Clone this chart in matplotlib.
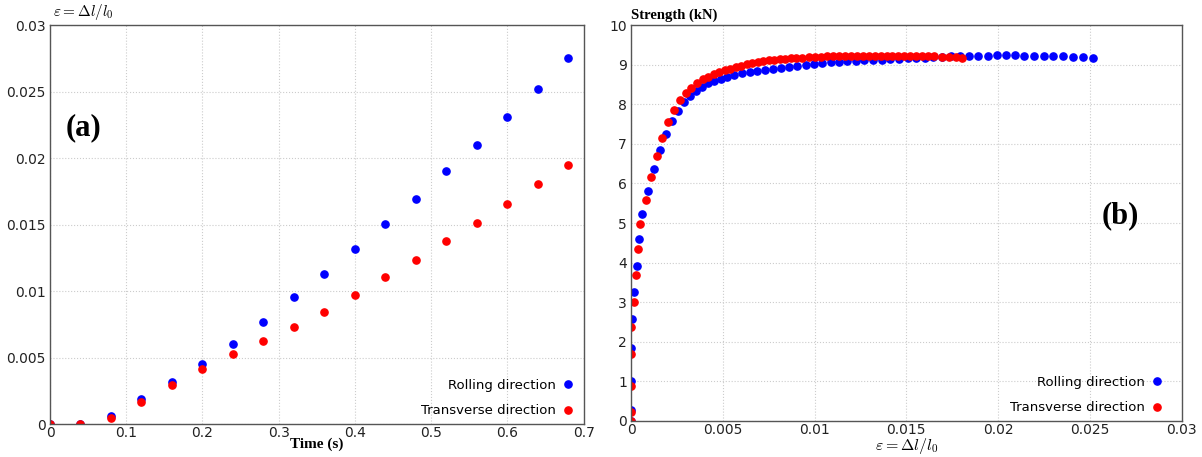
import numpy as np
import matplotlib
matplotlib.use("Agg")
import matplotlib.pyplot as plt
from matplotlib.ticker import FuncFormatter

plt.rcParams['mathtext.fontset'] = 'cm'
plt.rcParams['font.family'] = 'DejaVu Sans'

#=========== Données (a) : déformation en fonction du temps ===========#
time = [0.0, 0.04, 0.08, 0.12, 0.16, 0.20, 0.24, 0.28, 0.32,
        0.36, 0.40, 0.44, 0.48, 0.52, 0.56, 0.60, 0.64, 0.68]
eps_rolling = [0.0, 0.00003, 0.00058, 0.0019, 0.0032, 0.0045, 0.0060, 0.00768, 0.00952,
               0.0113, 0.0132, 0.01505, 0.0169, 0.0190, 0.0210, 0.0231, 0.0252, 0.0275]
eps_transverse = [0.0, 0.00002, 0.00045, 0.00167, 0.00293, 0.00414, 0.00525, 0.00626, 0.00732,
                  0.00843, 0.00967, 0.01104, 0.01235, 0.01379, 0.01515, 0.01655, 0.01806, 0.01948]

#=========== Données (b) : effort en fonction de la déformation ===========#
strain_rolling = [0.0, 0.0, 0.0, 0.0, 0.00005, 0.00018, 0.00033, 0.00045, 0.00062, 0.00094,
                  0.00125, 0.00158, 0.0019, 0.00223, 0.00258, 0.00289, 0.00321, 0.00354,
                  0.00387, 0.00419, 0.00452, 0.00488, 0.00524, 0.00562, 0.00603, 0.00647,
                  0.00688, 0.0073, 0.00774, 0.00815, 0.00859, 0.00906, 0.00953, 0.00996,
                  0.01042, 0.01087, 0.01132, 0.01178, 0.01225, 0.01272, 0.01319, 0.01366,
                  0.01413, 0.0146, 0.01507, 0.01554, 0.01602, 0.01648, 0.01696, 0.01743,
                  0.01793, 0.01844, 0.01893, 0.01945, 0.01993, 0.02042, 0.02091, 0.02143,
                  0.02195, 0.02249, 0.02301, 0.02354, 0.02408, 0.02462, 0.02517]
force_rolling = [0.0, 0.28, 1.00, 1.84, 2.58, 3.25, 3.92, 4.60, 5.23, 5.82,
                 6.36, 6.84, 7.25, 7.58, 7.84, 8.05, 8.21, 8.34,
                 8.44, 8.53, 8.59, 8.64, 8.69, 8.745, 8.78, 8.81,
                 8.84, 8.86, 8.89, 8.91, 8.95, 8.97, 9.00, 9.02,
                 9.04, 9.06, 9.07, 9.09, 9.10, 9.12, 9.125, 9.13,
                 9.14, 9.15, 9.16, 9.17, 9.18, 9.19, 9.20, 9.21,
                 9.21, 9.22, 9.23, 9.23, 9.24, 9.24, 9.24, 9.23,
                 9.23, 9.23, 9.22, 9.21, 9.20, 9.19, 9.16]

strain_transverse = [0.0, 0.0, 0.0, 0.0, 0.0, 0.00015, 0.00026, 0.00038, 0.00049, 0.00082,
                     0.0011, 0.0014, 0.0017, 0.00203, 0.00234, 0.00267, 0.00298, 0.00328,
                     0.00361, 0.0039, 0.0042, 0.0045, 0.0048, 0.0051, 0.0054, 0.0057,
                     0.006, 0.0063, 0.0066, 0.0069, 0.0072, 0.0075, 0.0078, 0.0081,
                     0.0084, 0.0087, 0.009, 0.0093, 0.00971, 0.01003, 0.01036, 0.01069,
                     0.01101, 0.01134, 0.01167, 0.01199, 0.01232, 0.01265, 0.01297, 0.0133,
                     0.01363, 0.01395, 0.01424, 0.01455, 0.01487, 0.01518, 0.01552, 0.01588,
                     0.0162, 0.01653, 0.01693, 0.01733, 0.01769, 0.01802]
force_transverse = [0.0, 0.23, 0.89, 1.68, 2.37, 3.01, 3.69, 4.34, 4.98, 5.59,
                    6.17, 6.70, 7.15, 7.54, 7.85, 8.11, 8.29, 8.42,
                    8.55, 8.63, 8.70, 8.76, 8.81, 8.86, 8.90, 8.94,
                    8.98, 9.01, 9.04, 9.07, 9.09, 9.11, 9.13, 9.14,
                    9.15, 9.16, 9.17, 9.18, 9.19, 9.20, 9.20, 9.21,
                    9.21, 9.21, 9.22, 9.22, 9.22, 9.22, 9.22, 9.22,
                    9.22, 9.22, 9.22, 9.22, 9.22, 9.22, 9.21, 9.21,
                    9.21, 9.21, 9.20, 9.19, 9.19, 9.17]

#=============== Tracé ===============#
fmt = FuncFormatter(lambda v, p: '%g' % round(v, 6))
serif_bold = dict(family='Liberation Serif', weight='bold')

def style(ax):
    ax.grid(True, color='#cccccc', linestyle=':', linewidth=0.8)
    ax.set_axisbelow(True)
    for s in ax.spines.values():
        s.set_color('#555555')
        s.set_linewidth(1.0)
    ax.tick_params(direction='in', length=0, labelsize=10, colors='#222222', pad=3)
    ax.tick_params(axis='x', pad=1.5)
    ax.xaxis.set_major_formatter(fmt)
    ax.yaxis.set_major_formatter(fmt)

def legende(ax, xancre):
    ax.legend(loc='lower right', bbox_to_anchor=(xancre, 0.0), frameon=False,
              markerfirst=False, numpoints=1, fontsize=9.5, handletextpad=0.2,
              handlelength=1.4, labelspacing=0.95, borderaxespad=0.1)

fig = plt.figure(figsize=(12.02, 4.57), dpi=100)
ax1 = fig.add_axes([0.0416, 0.072, 0.444, 0.873])
ax2 = fig.add_axes([0.525, 0.079, 0.458, 0.866])

# (a)
ax1.plot(time, eps_rolling, 'o', color='#0000ff', mec='#0000ff', ms=5.2, label='Rolling direction')
ax1.plot(time, eps_transverse, 'o', color='#ff0000', mec='#ff0000', ms=5.2, label='Transverse direction')
ax1.set_xlim(0, 0.7)
ax1.set_ylim(0, 0.03)
ax1.set_xticks(np.arange(0, 0.71, 0.1))
ax1.set_yticks(np.arange(0, 0.0301, 0.005))
style(ax1)
ax1.set_xlabel('Time (s)', fontsize=11, labelpad=-2, **serif_bold)
ax1.text(0.005, 1.008, r'$\varepsilon = \Delta l / l_0$', transform=ax1.transAxes,
         fontsize=11, ha='left', va='bottom')
ax1.text(0.03, 0.725, '(a)', transform=ax1.transAxes, fontsize=22, **serif_bold)
legende(ax1, 1.0)

# (b)
ax2.plot(strain_rolling, force_rolling, 'o', color='#0000ff', mec='#0000ff', ms=5.2, label='Rolling direction')
ax2.plot(strain_transverse, force_transverse, 'o', color='#ff0000', mec='#ff0000', ms=5.2, label='Transverse direction')
ax2.set_xlim(0, 0.03)
ax2.set_ylim(0, 10)
ax2.set_xticks(np.arange(0, 0.0301, 0.005))
ax2.set_yticks(np.arange(0, 10.1, 1))
style(ax2)
ax2.set_xlabel(r'$\varepsilon = \Delta l / l_0$', fontsize=11.5, labelpad=-1)
ax2.text(0.0, 1.008, 'Strength (kN)', transform=ax2.transAxes,
         fontsize=10.5, ha='left', va='bottom', **serif_bold)
ax2.text(0.855, 0.5, '(b)', transform=ax2.transAxes, fontsize=22, **serif_bold)
legende(ax2, 0.984)

fig.savefig('out.png', dpi=100)
